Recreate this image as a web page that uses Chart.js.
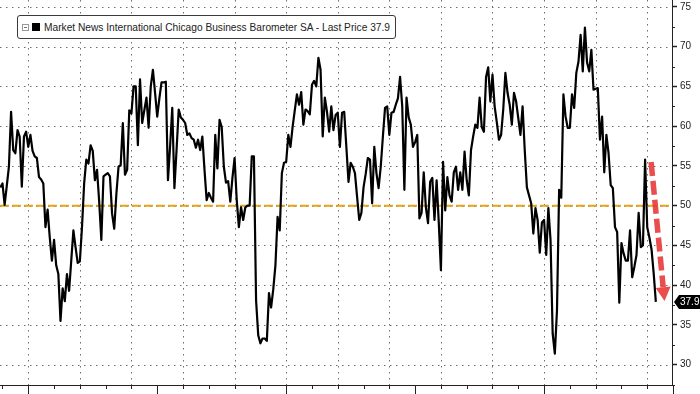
<!DOCTYPE html>
<html>
<head>
<meta charset="utf-8">
<script src="https://cdn.jsdelivr.net/npm/chart.js@4.4.1/dist/chart.umd.min.js"></script>
<style>
  html, body { margin: 0; padding: 0; background: #fff; }
  #wrap { position: relative; width: 700px; height: 394px; overflow: hidden; }
  #legend {
    position: absolute; left: 17px; top: 15px; height: 22px; padding: 0 5px 0 4px;
    border: 1px solid #3a3a3a; border-radius: 3px; background: #fff;
    font: 10.2px "Liberation Sans", Arial, sans-serif; color: #222;
    display: flex; align-items: center; white-space: nowrap;
  }
  #legend .tog { width: 5px; height: 5px; border: 1px solid #999; position: relative; margin-right: 3px; }
  #legend .tog:after { content: ''; position: absolute; left: 1px; right: 1px; top: 2px; height: 1px; background: #777; }
  #legend .sw { width: 8px; height: 8px; background: #000; margin-right: 4px; }
</style>
</head>
<body>
<div id="wrap">
  <canvas id="chart" width="700" height="394"></canvas>
  <div id="legend"><span class="tog"></span><span class="sw"></span><span id="legend-text"></span></div>
</div>
<script>
// MNI Chicago Business Barometer (SA), monthly, first point Nov 1998
const seriesName = 'Market News International Chicago Business Barometer SA';
const firstYear = 1998;
const firstMonth = 11;
const pmiValues = [
  52.3, 52.8,                                                             // 1998 Nov-Dec
  50.1, 52.5, 54.9, 61.8, 57.0, 56.6, 59.5, 58.7, 52.4, 58.7, 59.3, 57.4, // 1999
  58.9, 56.9, 56.2, 56.0, 53.6, 53.3, 52.8, 47.3, 49.5, 46.0, 43.1, 45.7, // 2000
  42.5, 41.4, 35.5, 39.6, 38.0, 41.4, 39.3, 43.1, 46.9, 44.8, 42.8, 43.0, // 2001
  47.3, 52.8, 55.8, 55.3, 57.6, 56.9, 53.2, 54.5, 50.5, 45.7, 53.7, 53.9, // 2002
  54.1, 53.7, 49.0, 47.1, 51.5, 54.9, 55.1, 60.4, 53.9, 54.5, 62.0, 61.6, // 2003
  65.0, 65.0, 57.6, 65.9, 60.4, 62.0, 63.6, 59.8, 65.0, 67.1, 64.2, 61.2, // 2004
  63.5, 65.5, 65.5, 65.6, 53.2, 57.5, 62.3, 52.2, 57.0, 62.1, 61.1, 60.8, // 2005
  60.4, 58.9, 59.1, 58.5, 58.3, 57.3, 58.3, 57.0, 58.7, 54.5, 50.7, 51.6, // 2006
  51.0, 50.5, 58.9, 54.7, 60.8, 59.9, 54.9, 52.9, 53.1, 50.5, 53.5, 56.0, // 2007
  50.7, 47.3, 49.8, 48.2, 49.8, 50.0, 50.0, 56.2, 56.2, 38.1, 33.7, 32.7, // 2008
  33.3, 33.3, 33.0, 39.0, 37.2, 39.5, 42.5, 48.6, 46.9, 54.1, 55.4, 55.5, // 2009
  58.9, 57.4, 59.9, 62.0, 64.0, 62.7, 64.3, 60.2, 62.1, 61.9, 61.5, 65.2, // 2010
  65.7, 65.0, 68.6, 67.1, 58.7, 63.6, 61.8, 59.3, 62.5, 59.5, 61.4, 61.7, // 2011
  57.4, 61.7, 61.8, 57.4, 53.0, 55.4, 54.9, 54.1, 51.1, 48.2, 49.1, 52.3, // 2012
  54.0, 56.0, 55.8, 50.3, 57.4, 54.1, 52.2, 54.9, 58.7, 62.3, 62.5, 58.9, // 2013
  61.7, 61.8, 62.7, 63.5, 66.2, 62.5, 52.0, 63.6, 61.1, 60.2, 57.4, 58.0, // 2014
  58.9, 48.4, 49.1, 54.2, 49.8, 47.8, 53.0, 53.5, 48.2, 53.2, 47.9, 41.9, // 2015
  55.5, 49.4, 53.6, 51.3, 50.5, 54.2, 54.9, 52.0, 54.2, 52.0, 56.8, 53.2, // 2016
  51.3, 57.0, 58.7, 60.2, 59.8, 63.6, 59.9, 59.3, 66.2, 67.4, 63.1, 66.5, // 2017
  62.5, 60.5, 58.3, 58.9, 62.1, 66.7, 64.2, 62.7, 60.2, 64.2, 63.1, 61.0, // 2018
  58.9, 62.5, 57.0, 52.3, 51.3, 50.3, 46.5, 49.7, 48.2, 44.1, 47.9, 48.2, // 2019
  43.8, 49.7, 45.7, 33.9, 31.4, 36.8, 52.0, 51.0, 64.0, 61.2, 59.8, 59.8, // 2020
  64.0, 62.3, 66.7, 68.1, 71.5, 66.9, 72.4, 68.0, 66.9, 69.6, 64.6, 64.7, // 2021
  64.8, 58.3, 61.2, 54.2, 58.9, 56.6, 52.6, 52.2, 47.3, 46.7, 37.8, 45.3, // 2022
  44.0, 43.1, 43.1, 46.9, 41.0, 42.3, 43.8, 49.1, 44.8, 45.0, 55.8, 47.3, // 2023
  46.0, 44.5, 41.5, 37.9                                                  // 2024 Jan-Apr
];
const refLevel = 50;
const lastPrice = pmiValues[pmiValues.length - 1];
const yTickStep = 5;
const xRange = [1998.904, 2024.96];   // years, left/right edge of the plot
const yRange = [27.45, 75.87];
const arrowFrom = [2024.15, 55.5];    // [year, value]
const arrowTo = [2024.67, 38.0];

// month-end dates as fractional years
const points = pmiValues.map((v, k) => {
  const m0 = firstMonth - 1 + k;
  const year = firstYear + Math.floor(m0 / 12);
  const month = (m0 % 12) + 1;
  return { x: year + month / 12, y: v };
});

document.getElementById('legend-text').textContent = seriesName + ' - Last Price ' + lastPrice.toFixed(1);

const gridColor = '#6f6f6f';

// dotted grid: every 5 points, every 2 years
const dottedGrid = {
  id: 'dottedGrid',
  beforeDatasetsDraw(chart) {
    const { ctx, chartArea: a, scales: { x, y } } = chart;
    ctx.save();
    ctx.strokeStyle = gridColor;
    ctx.lineWidth = 1;
    ctx.setLineDash([1.5, 4.5]);
    y.ticks.forEach(t => {
      const py = Math.round(y.getPixelForValue(t.value)) + 0.5;
      ctx.beginPath(); ctx.moveTo(a.left, py); ctx.lineTo(a.right, py); ctx.stroke();
    });
    x.ticks.forEach(t => {
      if (Math.round(t.value) % 2 !== 0) return;
      const px = Math.round(x.getPixelForValue(t.value)) + 0.5;
      ctx.beginPath(); ctx.moveTo(px, a.top); ctx.lineTo(px, a.bottom); ctx.stroke();
    });
    ctx.restore();
  }
};

const extras = {
  id: 'extras',
  afterDraw(chart) {
    const { ctx, chartArea: a, scales: { x, y } } = chart;
    ctx.save();
    // bottom ticks: every year, longer every 5 years
    ctx.strokeStyle = '#222';
    ctx.lineWidth = 1;
    for (let yr = 1999; yr <= 2025; yr++) {
      const px = Math.round(x.getPixelForValue(yr)) + 0.5;
      const len = yr % 5 === 0 ? 10 : 4;
      ctx.beginPath(); ctx.moveTo(px, a.bottom); ctx.lineTo(px, a.bottom + len); ctx.stroke();
    }
    // minor ticks on the right axis
    for (let v = 27.5; v < yRange[1]; v += yTickStep) {
      const py = Math.round(y.getPixelForValue(v)) + 0.5;
      ctx.beginPath(); ctx.moveTo(a.right, py); ctx.lineTo(a.right + 3, py); ctx.stroke();
    }

    // red dashed arrow
    const x0 = x.getPixelForValue(arrowFrom[0]), y0 = y.getPixelForValue(arrowFrom[1]);
    const x1 = x.getPixelForValue(arrowTo[0]), y1 = y.getPixelForValue(arrowTo[1]);
    const ang = Math.atan2(y1 - y0, x1 - x0);
    const headLen = 14, headW = 7.5;
    const bx = x1 - headLen * Math.cos(ang), by = y1 - headLen * Math.sin(ang);
    ctx.strokeStyle = 'rgba(232, 58, 58, 0.9)';
    ctx.fillStyle = 'rgba(232, 58, 58, 0.9)';
    ctx.lineWidth = 5.5;
    ctx.setLineDash([14, 5]);
    ctx.beginPath(); ctx.moveTo(x0, y0); ctx.lineTo(bx, by); ctx.stroke();
    ctx.setLineDash([]);
    ctx.beginPath();
    ctx.moveTo(x1, y1);
    ctx.lineTo(bx + headW * Math.sin(ang), by - headW * Math.cos(ang));
    ctx.lineTo(bx - headW * Math.sin(ang), by + headW * Math.cos(ang));
    ctx.closePath(); ctx.fill();

    // last price tag on the axis
    const ty = Math.round(y.getPixelForValue(lastPrice));
    ctx.fillStyle = '#000';
    ctx.beginPath();
    ctx.moveTo(a.right + 2, ty);
    ctx.lineTo(a.right + 7, ty - 7);
    ctx.lineTo(700, ty - 7);
    ctx.lineTo(700, ty + 7);
    ctx.lineTo(a.right + 7, ty + 7);
    ctx.closePath(); ctx.fill();
    ctx.fillStyle = '#fff';
    ctx.font = '10px "Liberation Sans", Arial, sans-serif';
    ctx.textBaseline = 'middle';
    ctx.fillText(lastPrice.toFixed(1), a.right + 8, ty + 0.5);
    ctx.restore();
  }
};

new Chart(document.getElementById('chart'), {
  type: 'line',
  data: {
    datasets: [
      {
        data: points,
        borderColor: '#000',
        borderWidth: 2.2,
        borderJoinStyle: 'round',
        pointRadius: 0,
        tension: 0
      },
      {
        data: [{ x: xRange[0], y: refLevel }, { x: xRange[1], y: refLevel }],
        borderColor: '#e3a51c',
        borderWidth: 2,
        borderDash: [9, 3],
        pointRadius: 0
      }
    ]
  },
  options: {
    responsive: false,
    animation: false,
    devicePixelRatio: 1,
    events: [],
    layout: { padding: 0 },
    plugins: { legend: { display: false }, tooltip: { enabled: false } },
    scales: {
      x: {
        type: 'linear',
        min: xRange[0],
        max: xRange[1],
        ticks: { display: false, stepSize: 1, includeBounds: false, autoSkip: false },
        grid: { display: false, drawTicks: false },
        border: { color: '#222' },
        afterFit: (s) => { s.height = 9; s.paddingLeft = 0; s.paddingRight = 0; }
      },
      y: {
        position: 'right',
        min: yRange[0],
        max: yRange[1],
        ticks: {
          stepSize: yTickStep,
          includeBounds: false,
          color: '#222',
          padding: 3,
          font: { family: '"Liberation Sans", Arial, sans-serif', size: 10 }
        },
        grid: { drawOnChartArea: false, tickColor: '#222', tickLength: 5, tickWidth: 1.5 },
        border: { color: '#222' },
        afterFit: (s) => { s.width = 28; s.paddingTop = 0; s.paddingBottom = 0; }
      }
    }
  },
  plugins: [dottedGrid, extras]
});
</script>
</body>
</html>
